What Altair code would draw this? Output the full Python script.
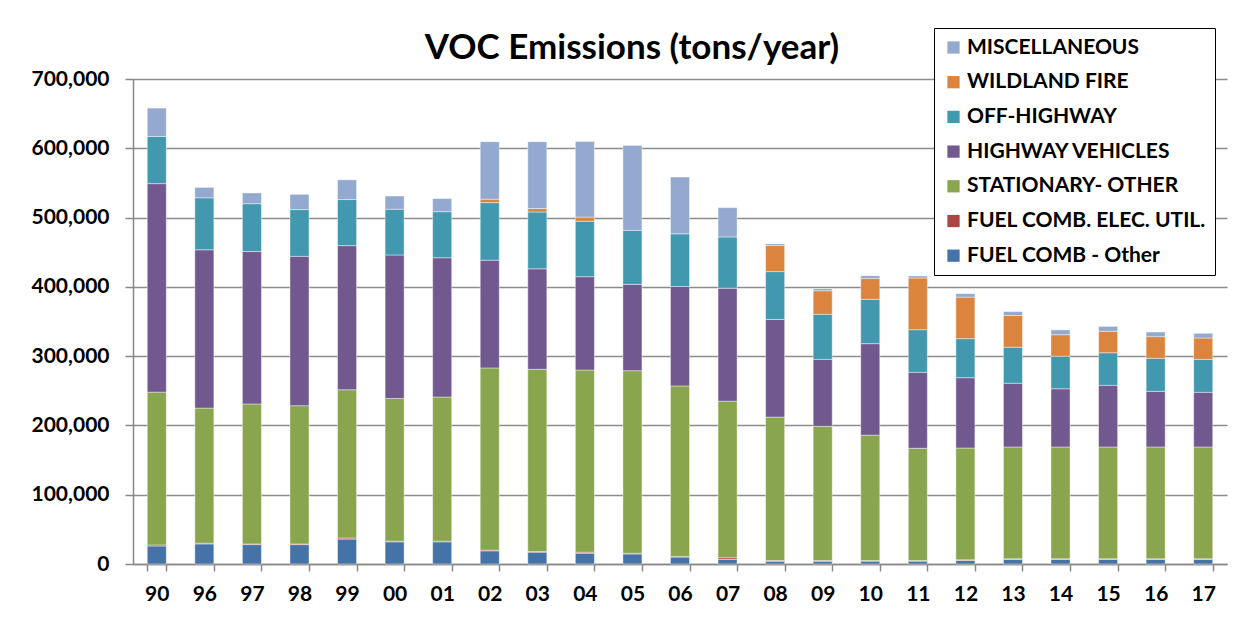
import altair as alt
import pandas as pd

years = ["90", "96", "97", "98", "99", "00", "01", "02", "03", "04", "05", "06",
         "07", "08", "09", "10", "11", "12", "13", "14", "15", "16", "17"]

fuel_other = [26000, 29000, 28000, 28000, 36000, 32000, 32000, 19000, 17000, 15500, 14500, 10000,
              6500, 3500, 3500, 4000, 4000, 5000, 6500, 6500, 6500, 6500, 6500]
fuel_elec = [1500, 1000, 1000, 1000, 1500, 1000, 1000, 1000, 1000, 1500, 1000, 1000,
             2500, 1500, 1500, 1000, 1000, 1000, 1000, 1000, 1000, 1000, 1000]
stationary = [220500, 195000, 202000, 199500, 214000, 206000, 208000, 263000, 263000, 263000, 263500, 246000,
              226000, 207000, 193700, 181000, 162000, 161400, 161400, 161400, 161400, 161400, 161400]
highway = [301000, 228500, 220000, 215500, 208000, 207000, 201000, 155500, 145000, 134700, 124600, 143500,
           163000, 141000, 96700, 132000, 109600, 101500, 92000, 84000, 89000, 80300, 78900]
off_highway = [68000, 75000, 69000, 67500, 66500, 66000, 66500, 83000, 82000, 80000, 78000, 76000,
               74000, 69000, 65000, 64000, 61600, 56300, 52000, 47000, 47000, 47700, 47600]
wildland = [0, 0, 0, 0, 0, 0, 0, 5000, 5000, 6000, 0, 0,
            0, 37500, 34000, 30000, 74600, 60000, 45700, 31000, 31000, 31200, 30800]
misc = [41000, 15000, 15500, 22000, 28500, 19000, 19000, 83000, 96500, 109000, 122600, 82000,
        42300, 2500, 3000, 4000, 3000, 5000, 5700, 7000, 7000, 6700, 6700]

series_names = ["FUEL COMB - Other", "FUEL COMB. ELEC. UTIL.", "STATIONARY- OTHER",
                "HIGHWAY VEHICLES", "OFF-HIGHWAY", "WILDLAND FIRE", "MISCELLANEOUS"]
series_values = [fuel_other, fuel_elec, stationary, highway, off_highway, wildland, misc]
series_colors = ["#4572A7", "#AA4643", "#89A54E", "#71588F", "#4198AF", "#DB843D", "#93A9CF"]

rows = []
for order, (name, vals) in enumerate(zip(series_names, series_values)):
    for yr, v in zip(years, vals):
        if v > 0:
            rows.append({"year": yr, "source": name, "tons": v, "ord": order})
df = pd.DataFrame(rows)

FONT = "Lato"

bars = alt.Chart(df).mark_bar(stroke="#ffffff", strokeWidth=0.6, strokeOpacity=0.7).encode(
    x=alt.X("year:N", sort=years, title=None,
            scale=alt.Scale(paddingInner=0.6, paddingOuter=0.3),
            axis=alt.Axis(labelAngle=0, tickBand="extent", tickSize=7, labelPadding=12,
                          labelFont=FONT, labelFontSize=21, labelFontWeight="bold", labelColor="#000000",
                          domainColor="#888888", domainWidth=1.5, tickColor="#888888",
                          tickWidth=1.5, grid=False)),
    y=alt.Y("tons:Q", stack="zero", title=None,
            scale=alt.Scale(domain=[0, 700000], nice=False),
            axis=alt.Axis(values=[0, 100000, 200000, 300000, 400000, 500000, 600000, 700000],
                          format=",.0f", tickSize=8, labelPadding=16,
                          labelFont=FONT, labelFontSize=21, labelFontWeight="bold", labelColor="#000000",
                          domainColor="#888888", domainWidth=1.5, tickColor="#888888",
                          tickWidth=1.5, gridColor="#8c8c8c", gridWidth=1.5)),
    color=alt.Color("source:N",
                    scale=alt.Scale(domain=series_names[::-1], range=series_colors[::-1]),
                    legend=alt.Legend(title=None, orient="none", legendX=801, legendY=-51,
                                      symbolType="square", symbolSize=150, symbolStrokeWidth=0,
                                      labelFont=FONT, labelFontSize=21, labelFontWeight="bold",
                                      labelColor="#000000", rowPadding=12.7, labelOffset=3,
                                      padding=9, strokeColor="#000000", fillColor="#ffffff",
                                      labelLimit=400)),
    order=alt.Order("ord:Q", sort="ascending"),
    tooltip=["year", "source", "tons"],
)

chart = bars.properties(
    width=1094,
    height=485,
    background="#ffffff",
    autosize=alt.AutoSizeParams(type="none"),
    padding={"left": 125, "top": 71, "right": 12, "bottom": 65},
    title=alt.TitleParams("VOC Emissions (tons/year)", font=FONT, fontSize=35, fontWeight="bold",
                          color="#000000", anchor="middle", dx=-48, dy=52, offset=14),
).configure_view(stroke=None)

chart.save("out.html", embed_options={"renderer": "svg", "actions": False})
